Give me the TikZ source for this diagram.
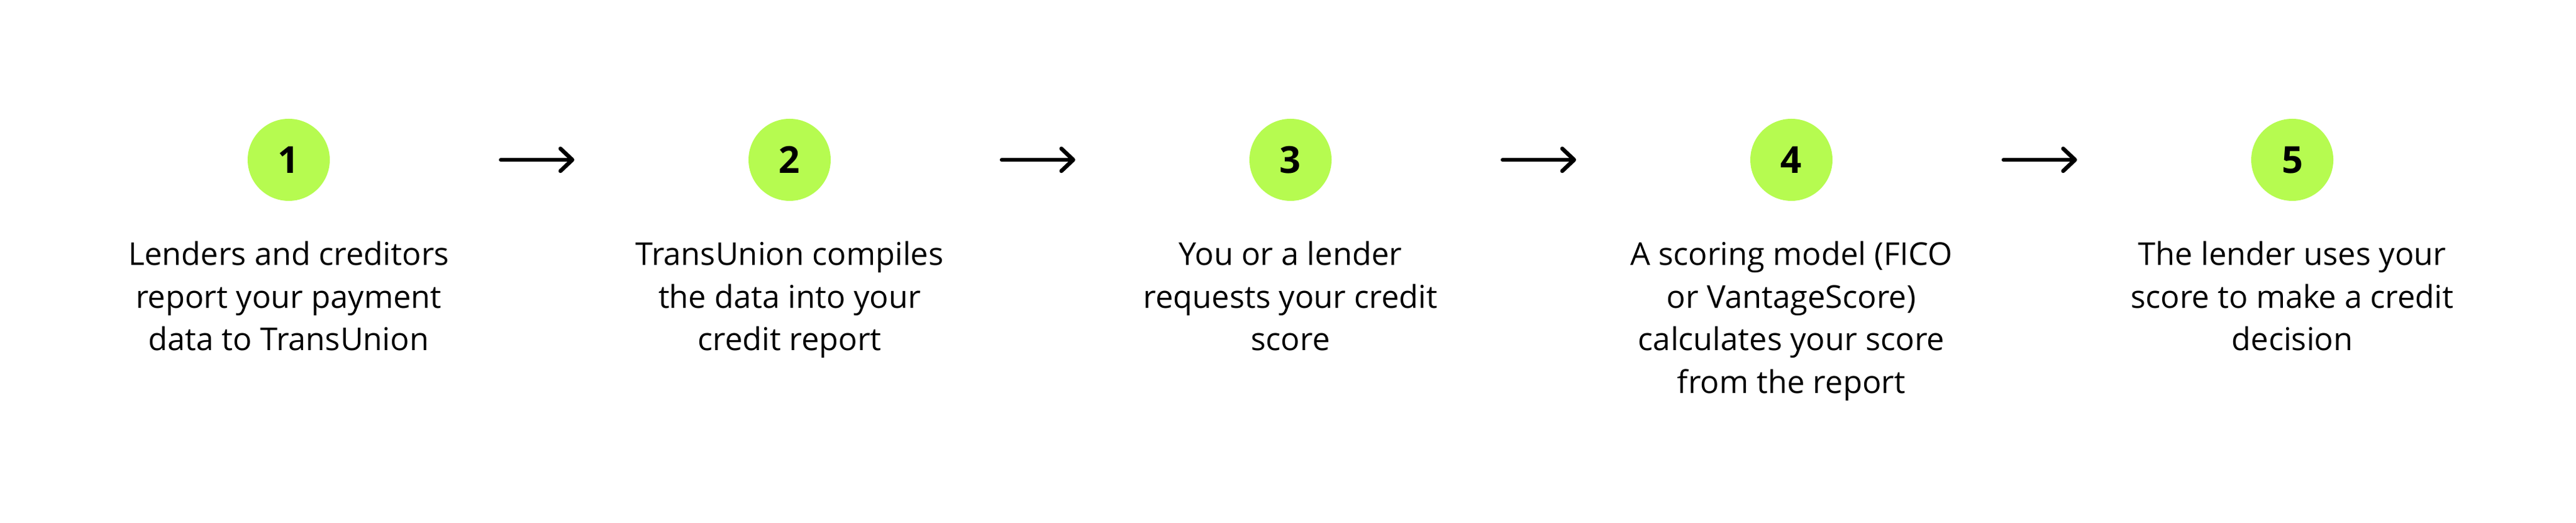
\documentclass[tikz,border=0pt]{standalone}
\usepackage{fontspec}
\setmainfont{Open Sans}
\usetikzlibrary{arrows.meta}
\definecolor{stepgreen}{HTML}{B6FB50}

\begin{document}
\begin{tikzpicture}[
	numdot/.style={circle,fill=stepgreen,minimum size=1.32cm,inner sep=0pt,outer sep=0pt,font=\fontsize{17}{20}\selectfont\bfseries},
	steptext/.style={align=center,anchor=north,inner sep=0pt,font=\fontsize{14.4}{19.6}\selectfont},
	flow/.style={-{Straight Barb[length=1.9mm,width=3.6mm,round]},line width=0.65mm,line cap=round,shorten <=2.75cm,shorten >=2.8cm}
]
	\useasboundingbox (0,0) rectangle (41.4,8.4);

	\node[numdot] (c1) at (4.64,5.83) {1};
	\node[numdot] (c2) at (12.69,5.83) {2};
	\node[numdot] (c3) at (20.74,5.83) {3};
	\node[numdot] (c4) at (28.79,5.83) {4};
	\node[numdot] (c5) at (36.84,5.83) {5};

	\node[steptext] (t1) at (4.64,4.53) {Lenders and creditors\\report your payment\\data to TransUnion};
	\node[steptext] (t2) at (12.69,4.53) {TransUnion compiles\\the data into your\\credit report};
	\node[steptext] (t3) at (20.74,4.53) {You or a lender\\requests your credit\\score};
	\node[steptext] (t4) at (28.79,4.53) {A scoring model (FICO\\or VantageScore)\\calculates your score\\from the report};
	\node[steptext] (t5) at (36.84,4.53) {The lender uses your\\score to make a credit\\decision};

	\draw[flow] (c1) -- (c2);
	\draw[flow] (c2) -- (c3);
	\draw[flow] (c3) -- (c4);
	\draw[flow] (c4) -- (c5);

	%\draw[step=1cm,gray,ultra thin] (0,0) grid (41.4,8.4);
\end{tikzpicture}
\end{document}
